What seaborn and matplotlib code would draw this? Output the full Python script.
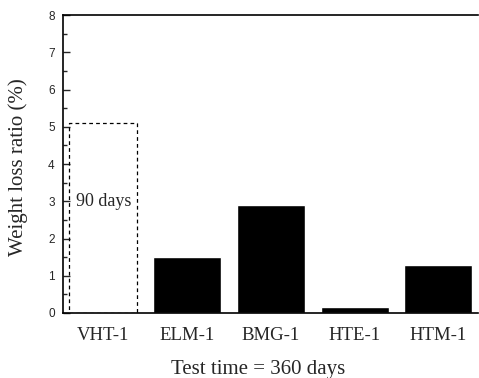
import matplotlib
matplotlib.use('Agg')
import matplotlib.pyplot as plt
import seaborn as sns
import pandas as pd
from matplotlib.ticker import MultipleLocator

# Weight loss ratio (%)
samples = ['VHT-1', 'ELM-1', 'BMG-1', 'HTE-1', 'HTM-1']
loss_360 = [0.02, 1.5, 2.9, 0.15, 1.3]
vht_90_days = 5.1

sns.set_style('white')

data = pd.DataFrame({'sample': samples, 'loss': loss_360})

fig = plt.figure(figsize=(4.79, 3.78), dpi=100)
ax = fig.add_axes([0.1315, 0.172, 0.866, 0.788])

sns.barplot(data=data, x='sample', y='loss', color='black', width=0.81,
            saturation=1, ax=ax)

# 90 days result for VHT-1 drawn as a dashed outline
ax.bar(0, vht_90_days, width=0.81, fill=False, edgecolor='black',
       linestyle=(0, (3, 2.5)), linewidth=0.9)
ax.text(0, 3, '90 days', ha='center', va='center',
        family='Liberation Serif', fontsize=13)

ax.set_xlim(-0.48, 4.47)
ax.set_ylim(0, 8)
ax.yaxis.set_major_locator(MultipleLocator(1))
ax.yaxis.set_minor_locator(MultipleLocator(0.5))
ax.tick_params(axis='y', which='major', direction='in', length=5, width=1,
               left=True, labelsize=8.5, pad=6)
ax.tick_params(axis='y', which='minor', direction='in', length=3, width=1, left=True)
ax.tick_params(axis='x', length=0, pad=10)
for lab in ax.get_yticklabels():
    lab.set_family('Liberation Sans')
for lab in ax.get_xticklabels():
    lab.set_family('Liberation Serif')
    lab.set_fontsize(13.5)

ax.set_xlabel('Test time = 360 days', family='Liberation Serif', fontsize=15)
ax.set_ylabel('Weight loss ratio (%)', family='Liberation Serif', fontsize=15)
ax.xaxis.set_label_coords(0.47, -0.157)
ax.yaxis.set_label_coords(-0.085, 0.49)

for side in ['left', 'bottom', 'top']:
    ax.spines[side].set_color('black')
    ax.spines[side].set_linewidth(1.2)
ax.spines['right'].set_visible(False)

fig.savefig('out.png', dpi=100)
